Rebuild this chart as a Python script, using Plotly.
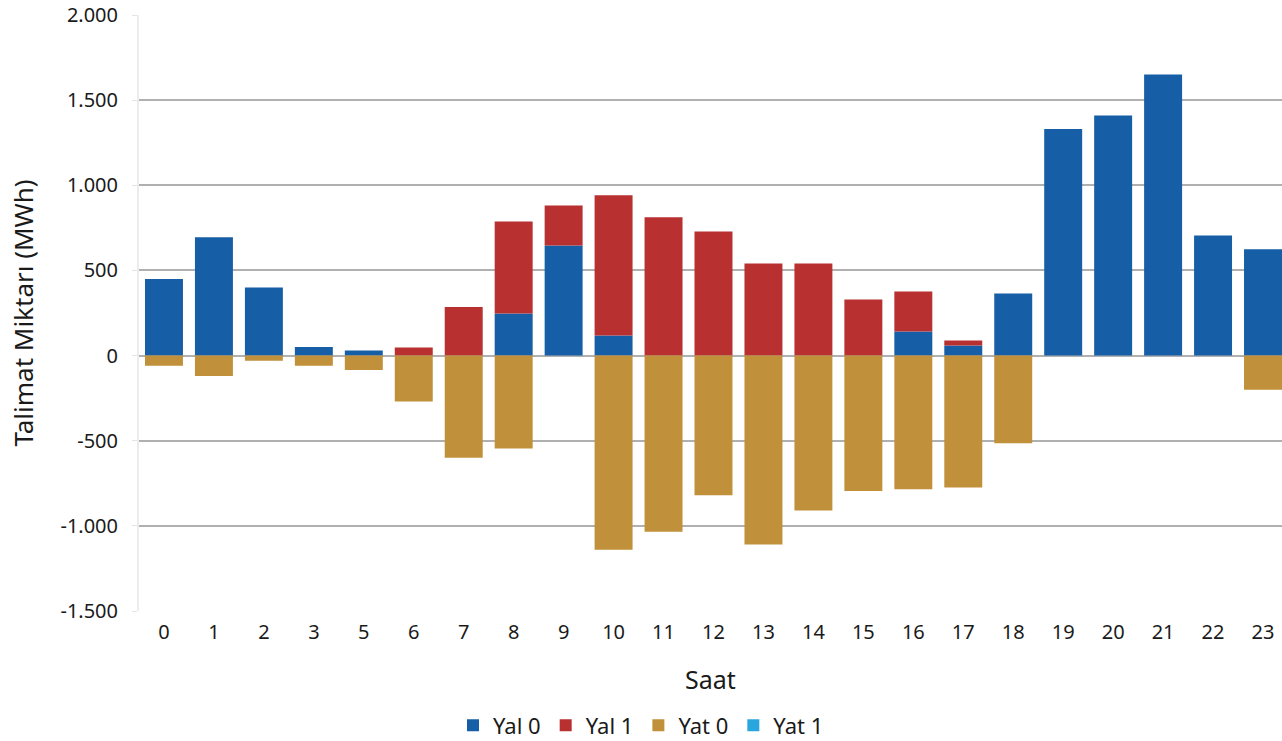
import plotly.graph_objects as go

hours = ["0", "1", "2", "3", "5", "6", "7", "8", "9", "10", "11", "12",
         "13", "14", "15", "16", "17", "18", "19", "20", "21", "22", "23"]
yal0 = [450, 695, 400, 50, 30, 0, 0, 247, 647, 118, 0, 0,
        0, 0, 0, 141, 59, 365, 1330, 1410, 1650, 705, 625]
yal1 = [0, 0, 0, 0, 0, 47, 285, 541, 235, 823, 812, 729,
        541, 541, 329, 235, 29, 0, 0, 0, 0, 0, 0]
yat0 = [-60, -120, -30, -60, -85, -270, -600, -545, 0, -1140, -1035, -820,
        -1110, -910, -795, -785, -775, -515, 0, 0, 0, 0, -200]
yat1 = [0] * len(hours)

ytick_vals = [-1500, -1000, -500, 0, 500, 1000, 1500, 2000]
ytick_text = ["-1.500", "-1.000", "-500", "0", "500", "1.000", "1.500", "2.000"]

series = [
    ("Yal 0", yal0, "#165ea6"),
    ("Yal 1", yal1, "#b83030"),
    ("Yat 0", yat0, "#c1903a"),
    ("Yat 1", yat1, "#2aa6de"),
]

fig = go.Figure()
for name, vals, col in series:
    fig.add_trace(go.Bar(
        x=hours, y=vals, name=name,
        marker=dict(color=col, line=dict(width=0)),
        width=0.76,
    ))

fig.update_layout(
    barmode="relative",
    width=1282, height=741,
    margin=dict(l=139, r=0, t=15, b=130, autoexpand=False),
    paper_bgcolor="white", plot_bgcolor="white",
    font=dict(family="Noto Sans, Open Sans, sans-serif", size=20, color="#1a1a1a"),
    showlegend=True,
    legend=dict(orientation="h", xref="container", yref="container",
                x=0.5, xanchor="center", y=0.021, yanchor="middle",
                font=dict(size=22), traceorder="normal"),
    xaxis=dict(
        type="category",
        range=[-0.5, 22.38],
        automargin=False,
        title=dict(text="Saat", font=dict(size=25), standoff=27),
        tickfont=dict(size=20),
        ticklabelstandoff=7,
        showgrid=False, ticks="", showline=False,
    ),
    yaxis=dict(
        range=[-1500, 2000],
        automargin=False,
        tickvals=ytick_vals,
        ticktext=ytick_text,
        title=dict(text="Talimat Miktarı (MWh)", font=dict(size=26), standoff=19),
        tickfont=dict(size=20),
        gridcolor="#b0b0b0", gridwidth=1.5,
        zeroline=True, zerolinecolor="#b0b0b0", zerolinewidth=1.5,
        showline=True, linecolor="#ececec", linewidth=2,
        ticks="outside", ticklen=5, tickcolor="#e4e4e4",
        ticklabelstandoff=10,
    ),
)

fig.write_html("out.html", config={"displayModeBar": False},
               post_script="document.body.style.margin='0px';document.body.style.padding='0px';")
